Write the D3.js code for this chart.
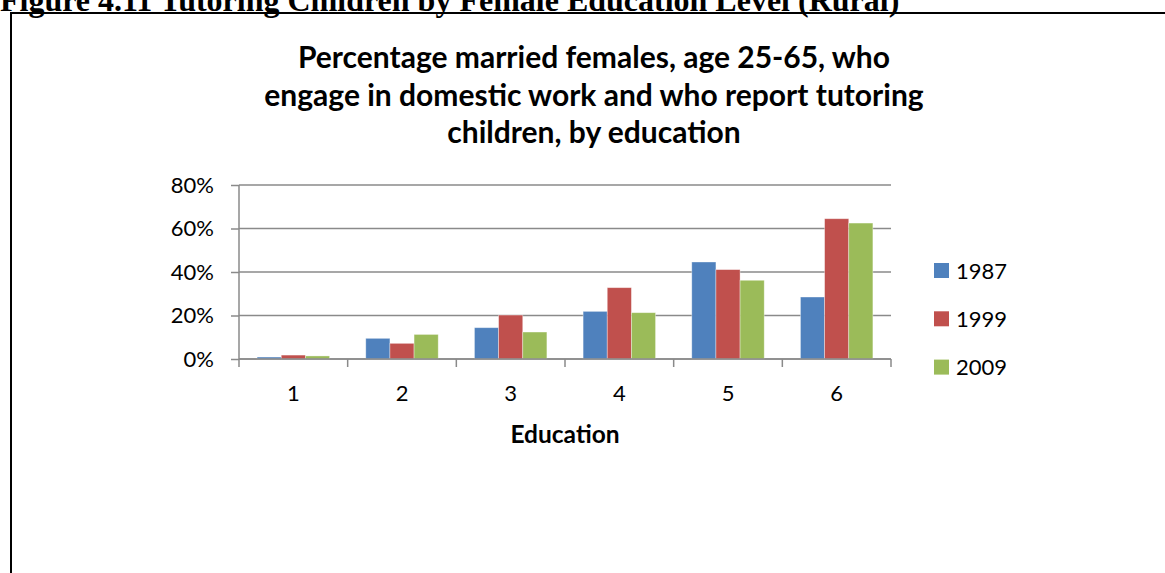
<!DOCTYPE html>
<html>
<head>
<meta charset="utf-8">
<script src="https://cdn.jsdelivr.net/npm/d3@7"></script>
<style>
  html, body { margin: 0; padding: 0; background: #fff; overflow: hidden; }
  svg { display: block; }
</style>
</head>
<body>
<svg id="chart" width="1165" height="573"></svg>
<script>
// Education levels on the x axis
const categories = ["1", "2", "3", "4", "5", "6"];
// Survey years shown as series
const seriesNames = ["1987", "1999", "2009"];
// Share (%) of married females tutoring children, per education level
const values1987 = [0.9, 9.5, 14.4, 21.9, 44.6, 28.5];
const values1999 = [1.8, 7.2, 20.2, 32.8, 41.1, 64.5];
const values2009 = [1.4, 11.3, 12.4, 21.3, 36.2, 62.5];
const yTicks = [0, 20, 40, 60, 80];
const seriesColors = ["#4F81BD", "#C0504D", "#9BBB59"];
const titleLines = [
  "Percentage married females, age 25-65, who",
  "engage in domestic work and who report tutoring",
  "children, by education"
];
const figureCaption = "Figure 4.11 Tutoring Children by Female Education Level (Rural)";
const xTitle = "Education";

const series = [values1987, values1999, values2009];

const svg = d3.select("#chart");
const font = "Lato, 'Open Sans', sans-serif";

// Caption above the framed chart (its top runs past the page edge)
svg.append("text")
  .attr("x", 0).attr("y", 11)
  .attr("font-family", "'Liberation Serif', 'Times New Roman', serif")
  .attr("font-weight", "bold")
  .attr("font-size", 32)
  .attr("fill", "#000")
  .text(figureCaption);

// Frame around the chart object
svg.append("path")
  .attr("d", "M11,573 V13 H1165")
  .attr("fill", "none")
  .attr("stroke", "#000")
  .attr("stroke-width", 2);

// Title
const title = svg.append("text")
  .attr("font-family", font)
  .attr("font-weight", "bold")
  .attr("font-size", 30)
  .attr("fill", "#000")
  .attr("text-anchor", "middle");
titleLines.forEach((t, i) => {
  title.append("tspan").attr("x", 594).attr("y", 68 + i * 37.5).text(t);
});

// Plot area
const plotLeft = 239, plotRight = 891, plotTop = 185, plotBottom = 359;

const x = d3.scaleBand().domain(categories).range([plotLeft, plotRight]).paddingInner(0).paddingOuter(0);
const xs = d3.scaleBand().domain(seriesNames).range([0, x.bandwidth()]).paddingInner(0).paddingOuter(0.75);
const y = d3.scaleLinear().domain([0, 80]).range([plotBottom, plotTop]);

const gridColor = "#8a8a8a";

// Horizontal gridlines
svg.append("g")
  .selectAll("line")
  .data(yTicks)
  .join("line")
  .attr("x1", plotLeft).attr("x2", plotRight)
  .attr("y1", d => y(d)).attr("y2", d => y(d))
  .attr("stroke", gridColor)
  .attr("stroke-width", 1.5);

// Bars
const groups = svg.append("g")
  .selectAll("g")
  .data(seriesNames.map((name, i) => ({ name, vals: series[i], color: seriesColors[i] })))
  .join("g")
  .attr("fill", d => d.color);

groups.selectAll("rect")
  .data(d => d.vals.map((v, j) => ({ v, cat: categories[j], name: d.name })))
  .join("rect")
  .attr("x", d => x(d.cat) + xs(d.name))
  .attr("width", xs.bandwidth())
  .attr("y", d => y(d.v))
  .attr("height", d => y(0) - y(d.v))
  .attr("stroke", "rgba(255,255,255,0.45)")
  .attr("stroke-width", 0.8);

// Y axis
const yAxis = svg.append("g")
  .attr("transform", `translate(${plotLeft},0)`)
  .call(d3.axisLeft(y).tickValues(yTicks).tickSize(8).tickPadding(17).tickFormat(d => d + "%"));
yAxis.select(".domain").attr("d", `M0,${plotTop}V${plotBottom + 8}`);

// X axis with ticks on category boundaries
const xAxis = svg.append("g")
  .attr("transform", `translate(0,${plotBottom})`)
  .call(d3.axisBottom(x).tickSize(0).tickPadding(26));
xAxis.select(".domain").attr("d", `M${plotLeft},0H${plotRight}`);
xAxis.selectAll(".boundary")
  .data(categories.slice(1).concat(["end"]))
  .join("line")
  .attr("class", "boundary")
  .attr("x1", (d, i) => i < categories.length - 1 ? x(d) : plotRight)
  .attr("x2", (d, i) => i < categories.length - 1 ? x(d) : plotRight)
  .attr("y1", 0).attr("y2", 8)
  .attr("stroke", gridColor)
  .attr("stroke-width", 1.5);

[yAxis, xAxis].forEach(g => {
  g.select(".domain").attr("stroke", gridColor).attr("stroke-width", 1.5);
  g.selectAll(".tick line").attr("stroke", gridColor).attr("stroke-width", 1.5);
  g.selectAll(".tick text")
    .attr("font-family", font)
    .attr("font-size", 22)
    .attr("fill", "#000");
});

// X axis title
svg.append("text")
  .attr("x", 565).attr("y", 443)
  .attr("text-anchor", "middle")
  .attr("font-family", font)
  .attr("font-weight", "bold")
  .attr("font-size", 24.5)
  .attr("fill", "#000")
  .text(xTitle);

// Legend
const legend = svg.append("g").attr("transform", "translate(934,263)");
const li = legend.selectAll("g")
  .data(seriesNames)
  .join("g")
  .attr("transform", (d, i) => `translate(0,${i * 48.3})`);
li.append("rect")
  .attr("width", 15).attr("height", 15)
  .attr("fill", (d, i) => seriesColors[i]);
li.append("text")
  .attr("x", 22).attr("y", 15.5)
  .attr("font-family", font)
  .attr("font-size", 22)
  .attr("fill", "#000")
  .text(d => d);
</script>
</body>
</html>
